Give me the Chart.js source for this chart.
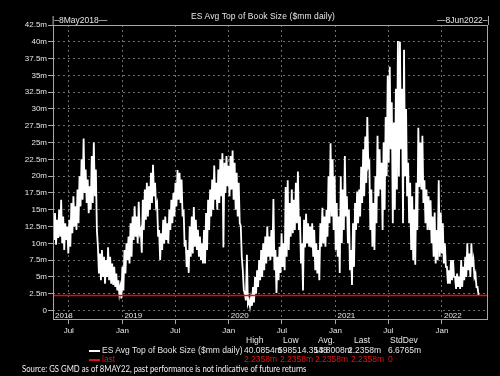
<!DOCTYPE html>
<html><head><meta charset="utf-8">
<script src="https://cdn.jsdelivr.net/npm/chart.js@4"></script>
<style>
html,body{margin:0;padding:0;background:#000;}
#wrap{position:relative;width:500px;height:376px;background:#000;overflow:hidden;font-family:"Liberation Sans",Arial,sans-serif;color:#e6e6e6;}
#c{position:absolute;left:0;top:0;}
.t{position:absolute;white-space:nowrap;font-size:8.5px;letter-spacing:0;line-height:10px;}
.r{color:#e01010;}
.sw{position:absolute;width:11px;height:2px;}
.src{position:absolute;white-space:nowrap;font-family:Lato,"Noto Sans",sans-serif;font-size:9px;line-height:10px;color:#f0f0f0;transform:scaleX(0.86);transform-origin:0 0;}
</style></head>
<body><div id="wrap"><canvas id="c" width="500" height="376"></canvas>
<div class="t" style="left:191px;top:11px;letter-spacing:0.1px;">ES Avg Top of Book Size ($mm daily)</div>
<div class="t" style="left:52px;top:14.5px;">|–8May2018—</div>
<div class="t" style="left:437px;top:14.5px;">—8Jun2022–|</div>
<div class="t" style="left:246px;top:335px;">High</div>
<div class="t" style="left:283px;top:335px;">Low</div>
<div class="t" style="left:318px;top:335px;">Avg.</div>
<div class="t" style="left:354px;top:335px;">Last</div>
<div class="t" style="left:390px;top:335px;">StdDev</div>
<div class="sw" style="left:89px;top:349.5px;background:#fff;"></div>
<div class="t" style="left:102px;top:345px;">ES Avg Top of Book Size ($mm daily)</div>
<div class="t" style="left:244px;top:345px;">40.0854m</div>
<div class="t" style="left:278px;top:345px;">598514.3548</div>
<div class="t" style="left:314px;top:345px;">13.8008m</div>
<div class="t" style="left:348px;top:345px;">2.2358m</div>
<div class="t" style="left:388px;top:345px;">6.6765m</div>
<div class="sw" style="left:89px;top:358.5px;background:#e01010;"></div>
<div class="t r" style="left:102px;top:354px;">last</div>
<div class="t r" style="left:244px;top:354px;">2.2358m</div>
<div class="t r" style="left:280px;top:354px;">2.2358m</div>
<div class="t r" style="left:315px;top:354px;">2.2358m</div>
<div class="t r" style="left:351px;top:354px;">2.2358m</div>
<div class="t r" style="left:388px;top:354px;">0</div>
<div class="src" style="left:22px;top:364px;">Source: GS GMD as of 8MAY22, past performance is not indicative of future returns</div>
</div>
<script>
// Series: weekly high / low of daily values, weeks starting 8 May 2018
const weekHigh = [
13.0,14.5,13.5,15.0,16.5,14.0,13.0,12.5,13.5,16.0,
17.0,15.5,18.0,20.0,22.5,25.6,21.0,19.5,18.5,23.0,
25.0,21.0,9.5,8.5,9.0,8.0,7.5,9.4,8.0,7.0,
6.5,5.5,4.5,3.5,6.5,9.0,10.0,11.0,13.0,14.0,
15.5,14.0,16.2,12.0,16.5,18.0,19.0,18.5,20.5,21.7,
19.0,16.0,12.0,11.5,13.5,14.0,13.0,15.0,16.5,17.5,
19.0,20.9,20.5,19.5,15.0,10.5,9.0,12.5,14.0,15.4,
13.5,12.0,11.0,10.0,12.0,14.5,16.5,18.0,19.5,21.6,
19.0,21.0,22.5,23.4,22.0,23.0,21.5,23.0,23.8,22.0,
20.5,19.0,12.6,6.0,2.6,8.3,1.5,1.8,3.5,5.0,
6.0,7.5,9.0,10.0,11.0,12.5,11.0,12.0,16.6,9.0,
8.0,9.5,11.5,10.0,18.4,19.4,16.0,18.0,16.5,19.0,
20.7,14.0,10.0,13.5,14.4,13.0,12.5,13.0,12.0,10.0,
9.0,13.0,15.3,14.0,15.0,20.0,24.9,22.5,20.0,16.0,
14.0,20.0,18.0,23.0,17.0,15.0,9.0,13.0,16.0,17.7,
18.0,21.4,24.0,25.9,28.8,22.0,18.0,16.0,20.0,26.0,
24.0,22.0,25.0,28.8,35.0,36.3,31.0,28.0,33.0,40.1,
40.0,33.0,38.8,30.0,22.0,19.0,17.0,15.0,19.0,27.2,
25.0,26.0,19.4,18.0,17.0,16.4,14.0,14.6,12.0,19.4,
14.6,13.0,10.0,6.5,6.0,7.5,7.5,5.0,5.5,5.0,
7.5,6.5,8.0,10.0,8.5,10.0,7.5,5.5,3.5];
const weekLow = [
10.5,9.8,10.8,11.0,10.0,9.0,10.5,8.5,9.5,11.5,
12.5,12.0,13.0,15.5,16.5,17.5,16.0,14.5,15.0,16.0,
17.0,12.0,5.5,4.5,5.0,4.0,5.0,4.5,4.0,3.8,
3.5,3.0,2.5,1.8,3.0,5.5,7.5,7.0,8.0,10.5,
11.0,10.0,11.5,8.6,12.0,13.5,14.0,15.0,16.0,17.0,
15.5,11.0,7.5,9.0,10.0,10.5,10.0,12.0,13.0,14.0,
15.5,16.5,16.0,14.0,9.5,6.5,5.6,8.0,8.5,9.5,
9.0,8.0,7.5,7.0,7.0,9.0,12.0,14.0,15.0,16.5,
15.0,16.0,17.0,9.4,17.5,18.5,17.0,18.0,16.5,15.0,
14.0,13.0,8.0,3.0,1.5,1.0,0.6,0.7,1.2,2.5,
3.5,4.5,5.0,6.0,7.0,8.0,7.5,8.0,6.0,2.6,
4.5,5.6,6.5,6.0,8.0,9.0,11.0,11.5,12.0,13.0,
12.0,7.0,3.0,9.4,10.0,9.5,9.4,8.0,6.0,5.5,
4.5,9.5,10.0,9.5,11.0,13.0,14.0,12.0,9.0,8.0,
5.6,10.0,12.0,14.0,10.0,6.0,3.8,6.5,12.0,13.0,
14.0,16.0,17.0,19.0,21.5,12.0,9.5,9.0,13.0,17.0,
18.0,12.0,15.0,20.0,22.0,24.0,13.0,15.0,18.0,20.0,
24.0,13.0,20.0,17.0,13.0,9.0,7.5,6.8,12.0,18.4,
18.0,16.0,13.0,12.0,12.0,10.0,8.0,7.0,7.5,8.0,
8.5,7.0,6.5,4.0,4.0,4.5,5.0,3.2,3.5,3.2,
3.5,4.5,5.0,6.0,5.0,6.5,5.0,3.5,2.4];
const lastValue = 2.2358;
const lastDay = 1459;          // days after 8 May 2018 (6 May 2022)
const endDay = 1492;           // 8 Jun 2022
const xTickDays = [54,238,419,603,785,969,1150,1334];
const xTickLabels = ['Jul','Jan','Jul','Jan','Jul','Jan','Jul','Jan'];
const yearDays = [0,238,603,969,1334];
const yearLabels = ['2018','2019','2020','2021','2022'];
const yTickValues = [0,2.5,5,7.5,10,12.5,15,17.5,20,22.5,25,27.5,30,32.5,35,37.5,40,42.5];

const series = [];
weekHigh.forEach((h,w)=>{
  series.push({x:w*7, y:h});
  series.push({x:w*7+3.5, y:weekLow[w]});
});
series.push({x:lastDay, y:lastValue});
const lastLine = [{x:0,y:lastValue},{x:endDay,y:lastValue}];

const frame = {
  id:'frame',
  afterDraw(chart){
    const {ctx, chartArea:a, scales:{x}} = chart;
    ctx.save();
    ctx.strokeStyle='#a8a8a8'; ctx.lineWidth=1;
    ctx.strokeRect(Math.round(a.left)+0.5, Math.round(a.top)+0.5, Math.round(a.right-a.left)-1, Math.round(a.bottom-a.top)-1);
    ctx.fillStyle='#e6e6e6'; ctx.font='8px "Liberation Sans"'; ctx.textBaseline='middle';
    yearDays.forEach((d,i)=>{ ctx.fillText(yearLabels[i], x.getPixelForValue(d)+2, a.bottom-4.5); });
    ctx.restore();
  }
};

new Chart(document.getElementById('c'), {
  type:'line',
  data:{datasets:[
    {label:'ES Avg Top of Book Size ($mm daily)', data:series, borderColor:'#ffffff', borderWidth:1.8, pointRadius:0, tension:0, order:2},
    {label:'last', data:lastLine, borderColor:'#e01010', borderWidth:1.6, pointRadius:0, order:1}
  ]},
  options:{
    responsive:false, animation:false,
    layout:{padding:{left:0,right:12,top:25,bottom:0}},
    plugins:{legend:{display:false}, tooltip:{enabled:false}, title:{display:false}},
    scales:{
      x:{type:'linear', min:0, max:endDay,
        afterBuildTicks:s=>{ s.ticks = xTickDays.map(v=>({value:v})); },
        afterFit:s=>{ s.height = 56; },
        ticks:{callback:(v,i)=>xTickLabels[i], color:'#e6e6e6', font:{family:'Liberation Sans', size:8}, padding:2, autoSkip:false, maxRotation:0},
        grid:{color:'#6e6e6e', lineWidth:1, tickLength:4, tickColor:'#a8a8a8'},
        border:{display:false, dash:[2,3]}
      },
      y:{min:-1.41, max:42.5,
        afterBuildTicks:s=>{ s.ticks = yTickValues.map(v=>({value:v})); },
        afterFit:s=>{ s.width = 53; },
        ticks:{callback:v=>v===0?'0':v+'m', color:'#e6e6e6', font:{family:'Liberation Sans', size:8}, padding:1, autoSkip:false},
        grid:{color:'#6e6e6e', lineWidth:1, tickLength:5, tickColor:'#a8a8a8'},
        border:{display:false, dash:[2,3]}
      }
    }
  },
  plugins:[frame]
});
</script>
</body></html>
